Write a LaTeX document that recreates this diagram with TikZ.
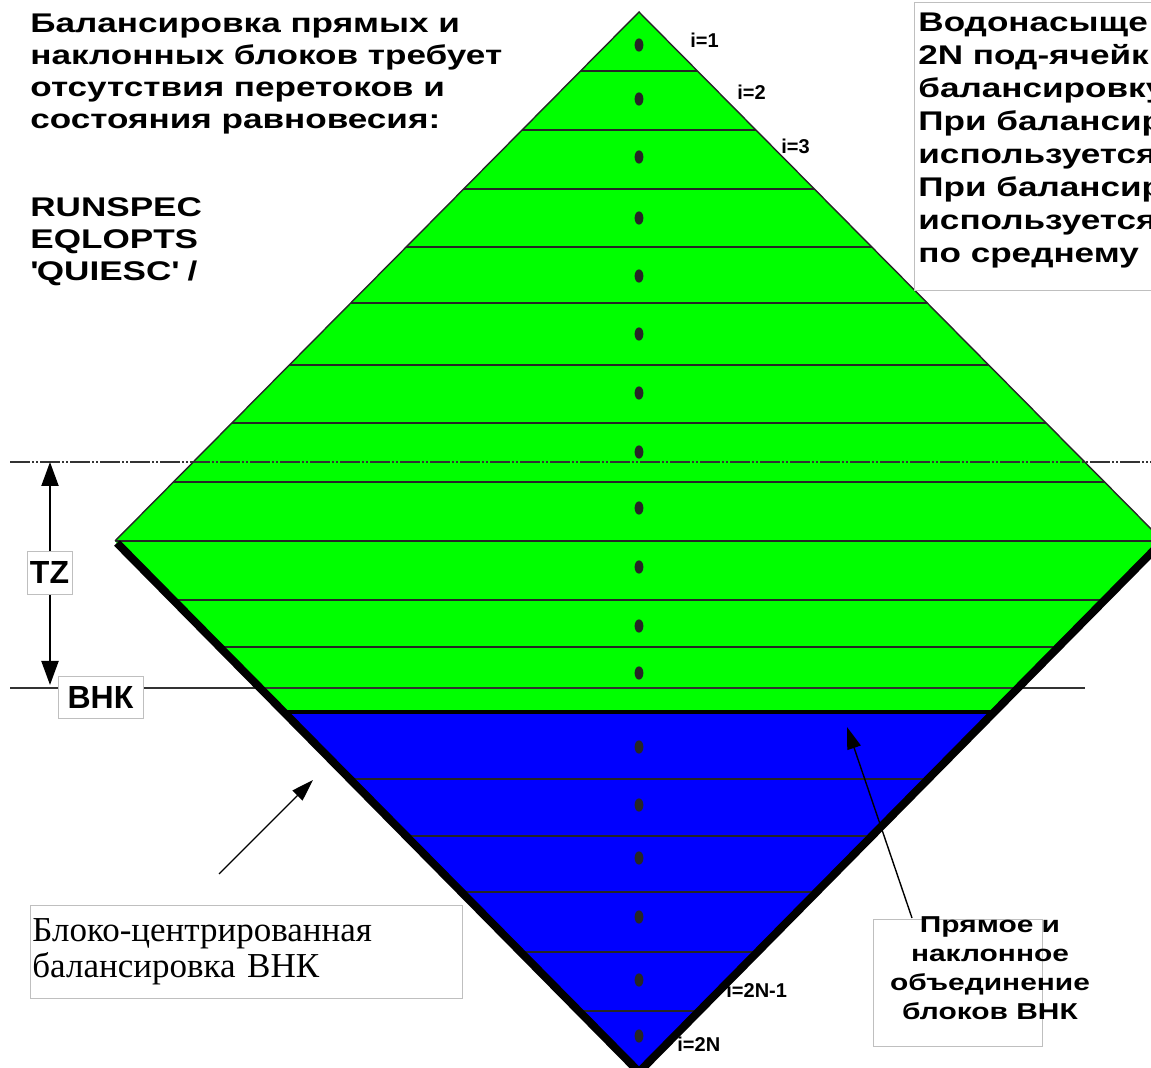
\documentclass[tikz,border=0pt]{standalone}
\usepackage{fontspec}
\setmainfont{Liberation Serif}
\newfontfamily\widesans[FakeStretch=1.3]{Liberation Sans}
\newfontfamily\plainsans{Liberation Sans}
\usetikzlibrary{arrows.meta}
\definecolor{oilgreen}{RGB}{0,255,0}
\definecolor{waterblue}{RGB}{0,0,255}
\tikzset{
  cell/.style={draw=black!85, line width=0.7pt},
  lbl/.style={inner sep=0pt, align=left, font=\widesans\bfseries\fontsize{13.5}{16}\selectfont},
  tagbox/.style={draw=black!25, fill=white, line width=0.4pt, inner sep=1pt,
    font=\plainsans\bfseries\fontsize{16}{18}\selectfont},
  idx/.style={inner sep=0pt, anchor=west, font=\plainsans\bfseries\fontsize{10}{12}\selectfont},
  ptr/.style={-{Triangle[length=11pt,width=7pt]}, line width=0.7pt}
}
\begin{document}
\begin{tikzpicture}[x=0.5pt, y=-0.5pt]
  \useasboundingbox (0,0) rectangle (1151,1068);
  \clip (0,0) rectangle (1151,1068);

  % oil and water zones of the block
  \fill[oilgreen] (639,12) -- (1163,541) -- (993.6,712) -- (284.4,712) -- (115,541) -- cycle;
  \fill[waterblue] (284.4,712) -- (993.6,712) -- (639,1070) -- cycle;

  % sub-cells
  \begin{scope}
    \clip (639,12) -- (1163,541) -- (639,1070) -- (115,541) -- cycle;
    \foreach \y in {71,130,189,247,303,365,423,482,541,600,647,779,836,892,952,1011}
      \draw[cell] (100,\y) -- (1170,\y);
  \end{scope}
  \foreach \y in {45,99,157,218,276,334,393,452,508,567,626,673,747,805,858,917,980,1036}
    \fill[black!85] (639,\y) ellipse (2.2pt and 3.3pt);

  % contacts
  \coordinate (tztop) at (50,462);
  \coordinate (tzbot) at (50,685);
  \draw[black!80, line width=0.6pt, dash pattern=on 10pt off 1pt on 1pt off 1pt on 1pt off 1pt]
    (10,462) -- (1151,462);
  \draw[black!80, line width=0.6pt] (10,688) -- (1085,688);

  % block outline
  \draw[black!85, line width=0.7pt] (115,541) -- (639,12) -- (1163,541);
  \draw[line width=4pt] (117,543) -- (639,1072) -- (1161,543);
  \draw[line width=2.2pt] (284.4,712) -- (993.6,712);

  \draw[{Triangle[length=12pt,width=8.5pt]}-{Triangle[length=12pt,width=8.5pt]}, line width=1pt]
    (tztop) -- (tzbot);
  \node[tagbox, minimum width=22.5pt, minimum height=21.5pt] (tz) at (49.5,572.5) {TZ};
  \node[tagbox, minimum width=42.5pt, minimum height=21pt] (vnk) at (100.5,697) {ВНК};

  \node[idx] (i1) at (690,40) {i=1};
  \node[idx] (i2) at (737,92) {i=2};
  \node[idx] (i3) at (781,146) {i=3};
  \node[idx] (i2n1) at (726,990) {i=2N-1};
  \node[idx] (i2n) at (677,1044) {i=2N};

  \node[lbl, anchor=north west] (req) at (30,14)
    {Балансировка прямых и\\наклонных блоков требует\\отсутствия перетоков и\\состояния равновесия:};
  \node[lbl, anchor=north west] (kw) at (30,197)
    {RUNSPEC\\EQLOPTS\\\textquotesingle QUIESC\textquotesingle\ /};

  \draw[black!25, line width=0.4pt] (914,2) rectangle (1170,290);
  \node[lbl, anchor=north west, font=\widesans\bfseries\fontsize{13.5}{16.5}\selectfont] (sat) at (918,13)
    {Водонасыще\\2N под-ячейк\\балансировку\\При балансир\\используется\\При балансир\\используется\\по среднему};

  \node[draw=black!25, line width=0.4pt, anchor=north west, inner xsep=1pt, text width=214pt,
    minimum height=46.5pt, align=left, font=\fontsize{17.5}{18}\selectfont] (bcb) at (30,905)
    {Блоко-центрированная\\балансировка ВНК};
  \coordinate (bcbtail) at (219,874);
  \coordinate (bcbtip) at (313,780);
  \draw[ptr] (bcbtail) -- (bcbtip);

  \node[draw=black!25, line width=0.4pt, anchor=north west, minimum width=84.5pt,
    minimum height=63.5pt] (mrgbox) at (873,919) {};
  \node[lbl, align=center, anchor=north, font=\widesans\bfseries\fontsize{11.5}{14.5}\selectfont]
    (mrg) at (990,916) {Прямое и\\наклонное\\объединение\\блоков ВНК};
  \coordinate (mrgtail) at (912,918);
  \coordinate (mrgtip) at (847,727);
  \draw[ptr] (mrgtail) -- (mrgtip);
\end{tikzpicture}
\end{document}
